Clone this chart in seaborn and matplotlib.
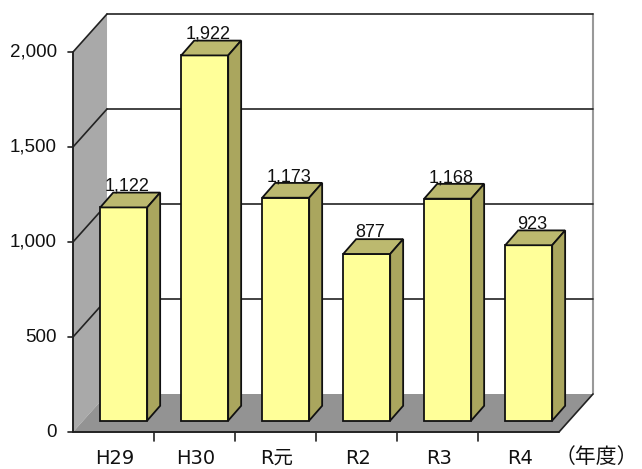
import matplotlib
matplotlib.use("Agg")
import matplotlib.pyplot as plt
from matplotlib.patches import Polygon
import seaborn as sns
import pandas as pd

categories = ["H29", "H30", "R元", "R2", "R3", "R4"]
values = [1122, 1922, 1173, 877, 1168, 923]
yticks = [0, 500, 1000, 1500, 2000]
ytick_labels = ["0", "500", "1,000", "1,500", "2,000"]
value_labels = ["1,122", "1,922", "1,173", "877", "1,168", "923"]
unit_label = "（年度）"

sns.set_theme(style="white")
plt.rcParams["font.family"] = ["Noto Sans CJK JP", "DejaVu Sans"]

W, H = 642, 469
fig = plt.figure(figsize=(W / 100, H / 100), dpi=100)
# axes in pixel geometry: x data -0.5..5.92 -> px 73..593 ; y data 0..2200 -> px 432..14
ax = fig.add_axes([73 / W, (H - 432) / H, 520 / W, 418 / H])
DX, DY = 0.42, 200          # full depth offset
BDX, BDY = 0.126, 60        # bar front offset
BDEPTH_X, BDEPTH_Y = 0.16, 78
ymax = 2000
x0, x1 = -0.5, 5.5

edge = "#222222"
# left wall
ax.add_patch(Polygon([(x0, 0), (x0, ymax), (x0 + DX, ymax + DY), (x0 + DX, DY)],
                     closed=True, facecolor="#a9a9a9", edgecolor="none", zorder=0))
# floor
ax.add_patch(Polygon([(x0, 0), (x1, 0), (x1 + DX, DY), (x0 + DX, DY)],
                     closed=True, facecolor="#939393", edgecolor="none", zorder=0))
# back wall right edge
ax.plot([x1 + DX, x1 + DX], [DY, ymax + DY], color="#999999", lw=1.5, zorder=1, clip_on=False)
ax.plot([x1, x1 + DX], [0, DY], color=edge, lw=1.2, zorder=1, clip_on=False)
# gridlines on back wall and left wall
for v in yticks[1:]:
    ax.plot([x0, x0 + DX], [v, v + DY], color=edge, lw=1.2, zorder=1, clip_on=False)
    ax.plot([x0 + DX, x1 + DX], [v + DY, v + DY], color=edge, lw=1.2, zorder=1, clip_on=False)
# front axes
ax.plot([x0, x0], [0, ymax], color=edge, lw=1.4, zorder=5, clip_on=False)
ax.plot([x0, x1], [0, 0], color=edge, lw=1.4, zorder=5, clip_on=False)
for v in yticks:
    ax.plot([x0 - 0.06, x0], [v, v], color=edge, lw=1.2, zorder=5, clip_on=False)
for i in range(1, len(categories)):
    ax.plot([x0 + i, x0 + i], [0, -45], color=edge, lw=1.2, zorder=5, clip_on=False)

df = pd.DataFrame({"cat": categories, "val": values})
sns.barplot(data=df, x="cat", y="val", ax=ax, width=0.58, color="#ffff99",
            saturation=1, edgecolor="#111111", linewidth=1.3, bottom=BDY, zorder=3)
ax.set_xlim(x0, x1 + DX)
ax.set_ylim(0, ymax + DY)
ax.axis("off")

bars = [p for p in ax.patches if p.get_facecolor()[0] > 0.99 and abs(p.get_facecolor()[2] - 0.6) < 0.05]
for p, lab in zip(bars, value_labels):
    p.set_x(p.get_x() + BDX)
    bx, by, bw, bh = p.get_x(), p.get_y(), p.get_width(), p.get_height()
    top = by + bh
    ax.add_patch(Polygon([(bx, top), (bx + bw, top), (bx + bw + BDEPTH_X, top + BDEPTH_Y),
                          (bx + BDEPTH_X, top + BDEPTH_Y)], closed=True,
                         facecolor="#bcb96f", edgecolor="#111111", lw=1.3, zorder=3))
    ax.add_patch(Polygon([(bx + bw, by), (bx + bw, top), (bx + bw + BDEPTH_X, top + BDEPTH_Y),
                          (bx + bw + BDEPTH_X, by + BDEPTH_Y)], closed=True,
                         facecolor="#aaa65e", edgecolor="#111111", lw=1.3, zorder=3))
    ax.text(bx + bw / 2 + BDEPTH_X / 2 - 0.04, top + BDEPTH_Y - 12, lab, ha="center", va="bottom",
            fontsize=13, family=["Liberation Sans", "DejaVu Sans"], color="#111111", zorder=6)

for v, lab in zip(yticks, ytick_labels):
    ax.text(x0 - 0.2, v, lab, ha="right", va="center", fontsize=13.5,
            family=["Liberation Sans", "DejaVu Sans"], color="#111111", clip_on=False)
for i, c in enumerate(categories):
    ax.text(i + 0.02, -140, c, ha="center", va="center", fontsize=14,
            family=["DejaVu Sans", "Noto Sans CJK JP"], color="#111111", clip_on=False)
ax.text(6.47, -132, unit_label, ha="right", va="center", fontsize=15,
        family=["Noto Sans CJK JP", "DejaVu Sans"], color="#111111", clip_on=False)

fig.savefig("out.png", dpi=100)
